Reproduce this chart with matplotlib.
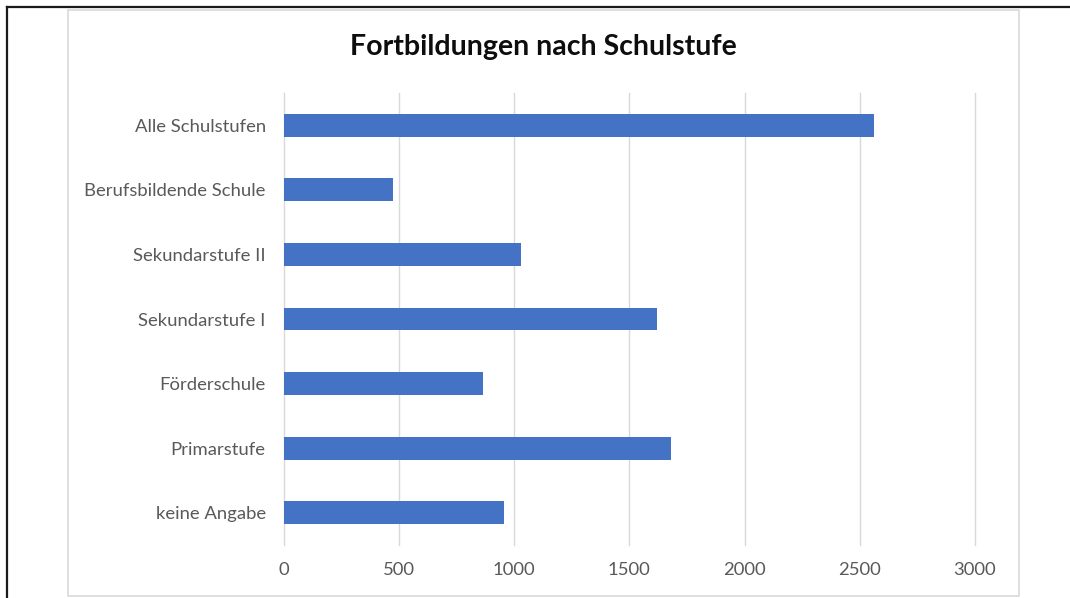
import matplotlib
matplotlib.use("Agg")
import matplotlib.pyplot as plt
from matplotlib.lines import Line2D
from matplotlib.patches import Rectangle

categories = ["Alle Schulstufen", "Berufsbildende Schule", "Sekundarstufe II",
              "Sekundarstufe I", "Förderschule", "Primarstufe", "keine Angabe"]
values = [2560, 475, 1030, 1620, 865, 1680, 955]
x_ticks = [0, 500, 1000, 1500, 2000, 2500, 3000]
title = "Fortbildungen nach Schulstufe"

W, H = 1070, 598
plt.rcParams['font.family'] = ['Lato', 'DejaVu Sans']
fig = plt.figure(figsize=(W / 100, H / 100), dpi=100)

def fx(px):
    return px / W

def fy(py):
    return 1 - py / H

# outer screenshot frame (black) and chart area border (light gray)
fig.add_artist(Line2D([fx(7), fx(7)], [fy(7), 0], color="#1a1a1a", lw=1.6))
fig.add_artist(Line2D([fx(7), 1], [fy(7), fy(7)], color="#1a1a1a", lw=1.6))
fig.add_artist(Rectangle((fx(68), fy(596)), fx(1019) - fx(68), fy(10) - fy(596),
                         fill=False, edgecolor="#D9D9D9", lw=1.2,
                         transform=fig.transFigure))

left, right, top, bottom = 283.7, 975, 93, 545
ax = fig.add_axes([fx(left), fy(bottom), fx(right) - fx(left), (bottom - top) / H])

y = list(range(len(categories)))
ax.barh(y, values, height=0.355, color="#4472C4", zorder=3)
ax.set_ylim(len(categories) - 0.5, -0.5)
ax.set_yticks(y)
ax.set_yticklabels(categories)
ax.set_xlim(0, 3000)
ax.set_xticks(x_ticks)
ax.set_xticklabels([str(t) for t in x_ticks])
ax.grid(axis="x", color="#D9D9D9", lw=1.0, zorder=0)
for gl in ax.get_xgridlines():
    gl.set_clip_on(False)
for s in ax.spines.values():
    s.set_visible(False)
ax.tick_params(axis="both", length=0, colors="#595959", labelsize=13.3)
ax.tick_params(axis="y", pad=13)
ax.tick_params(axis="x", pad=12)

fig.text(fx(543.5), fy(47), title, ha="center", va="center",
         fontsize=20.5, fontweight="bold", color="#0d0d0d")

fig.savefig("out.png", dpi=100)
